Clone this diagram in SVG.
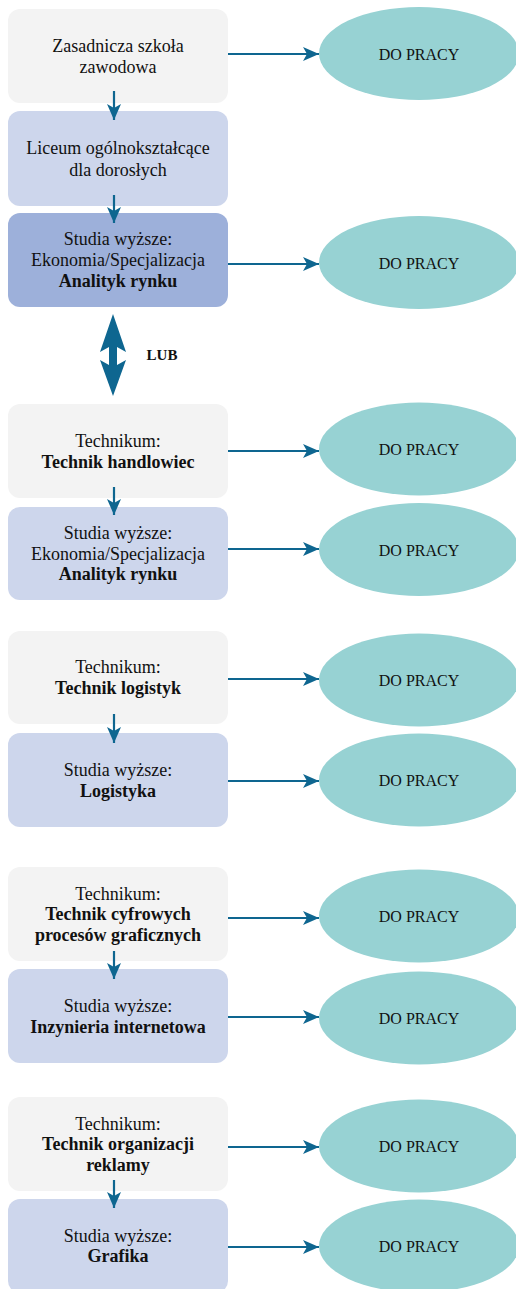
<svg xmlns="http://www.w3.org/2000/svg" width="516" height="1289" viewBox="0 0 516 1289">
<style>
.b1{fill:#F3F3F3}
.b2{fill:#CDD6EC}
.b3{fill:#9DB0DA}
.el{fill:#97D2D3}
.t{font-family:"Liberation Serif","Times New Roman",serif;font-size:18px;fill:#111;text-anchor:middle}
.bd{font-weight:bold}
.et{font-family:"Liberation Serif","Times New Roman",serif;font-size:16px;fill:#111;text-anchor:middle}
.c{stroke:#0E6690;stroke-width:2.2;fill:none}
</style>
<defs>
<marker id="ah" viewBox="0 0 16 14" refX="16" refY="7" markerWidth="16" markerHeight="14" markerUnits="userSpaceOnUse" orient="auto">
<path d="M0,0 L16,7 L0,14 L4,7 Z" fill="#0E6690"/>
</marker>
</defs>
<rect width="516" height="1289" fill="#fff"/>

<g id="n1"><rect class="b1" x="8" y="9" width="220" height="94" rx="12"/>
<text class="t" x="118" y="52">Zasadnicza szkoła</text><text class="t" x="118" y="72.5">zawodowa</text></g>
<g id="n2"><rect class="b2" x="8" y="111" width="220" height="95" rx="12"/>
<text class="t" x="118" y="154">Liceum ogólnokształcące</text><text class="t" x="118" y="175.5">dla dorosłych</text></g>
<g id="n3"><rect class="b3" x="8" y="213" width="220" height="94" rx="12"/>
<text class="t" x="118" y="245">Studia wyższe:</text><text class="t" x="118" y="266">Ekonomia/Specjalizacja</text><text class="t bd" x="118" y="286.5">Analityk rynku</text></g>

<g id="lub"><polygon points="113,314 126,352 117,347 117,365 126,360 113,396 100,360 109,365 109,347 100,352" fill="#0E6690"/>
<text x="162" y="360" font-family="Liberation Serif, serif" font-weight="bold" font-size="15" text-anchor="middle" fill="#111">LUB</text></g>

<g id="n4"><rect class="b1" x="8" y="404" width="220" height="94" rx="12"/>
<text class="t" x="118" y="447">Technikum:</text><text class="t bd" x="118" y="467.5">Technik handlowiec</text></g>
<g id="n5"><rect class="b2" x="8" y="507" width="220" height="93" rx="12"/>
<text class="t" x="118" y="539">Studia wyższe:</text><text class="t" x="118" y="559.5">Ekonomia/Specjalizacja</text><text class="t bd" x="118" y="580">Analityk rynku</text></g>

<g id="n6"><rect class="b1" x="8" y="631" width="220" height="93" rx="12"/>
<text class="t" x="118" y="673">Technikum:</text><text class="t bd" x="118" y="693.5">Technik logistyk</text></g>
<g id="n7"><rect class="b2" x="8" y="733" width="220" height="94" rx="12"/>
<text class="t" x="118" y="776">Studia wyższe:</text><text class="t bd" x="118" y="796.5">Logistyka</text></g>

<g id="n8"><rect class="b1" x="8" y="867" width="220" height="94" rx="12"/>
<text class="t" x="118" y="899.5">Technikum:</text><text class="t bd" x="118" y="920">Technik cyfrowych</text><text class="t bd" x="118" y="940.5">procesów graficznych</text></g>
<g id="n9"><rect class="b2" x="8" y="969" width="220" height="94" rx="12"/>
<text class="t" x="118" y="1012">Studia wyższe:</text><text class="t bd" x="118" y="1032.5">Inzynieria internetowa</text></g>

<g id="n10"><rect class="b1" x="8" y="1097" width="220" height="94" rx="12"/>
<text class="t" x="118" y="1129.5">Technikum:</text><text class="t bd" x="118" y="1150">Technik organizacji</text><text class="t bd" x="118" y="1170.5">reklamy</text></g>
<g id="n11"><rect class="b2" x="8" y="1199" width="220" height="94" rx="12"/>
<text class="t" x="118" y="1241.5">Studia wyższe:</text><text class="t bd" x="118" y="1262">Grafika</text></g>

<g id="e1"><ellipse class="el" cx="419" cy="53.5" rx="100" ry="46.5"/><text class="et" x="419" y="59.5">DO PRACY</text></g>
<g id="e2"><ellipse class="el" cx="419" cy="262.5" rx="100" ry="46.5"/><text class="et" x="419" y="268.5">DO PRACY</text></g>
<g id="e3"><ellipse class="el" cx="419" cy="449" rx="100" ry="46.5"/><text class="et" x="419" y="455">DO PRACY</text></g>
<g id="e4"><ellipse class="el" cx="419" cy="549.5" rx="100" ry="46.5"/><text class="et" x="419" y="555.5">DO PRACY</text></g>
<g id="e5"><ellipse class="el" cx="419" cy="680" rx="100" ry="46.5"/><text class="et" x="419" y="686">DO PRACY</text></g>
<g id="e6"><ellipse class="el" cx="419" cy="780" rx="100" ry="46.5"/><text class="et" x="419" y="786">DO PRACY</text></g>
<g id="e7"><ellipse class="el" cx="419" cy="916" rx="100" ry="46.5"/><text class="et" x="419" y="922">DO PRACY</text></g>
<g id="e8"><ellipse class="el" cx="419" cy="1018" rx="100" ry="46.5"/><text class="et" x="419" y="1024">DO PRACY</text></g>
<g id="e9"><ellipse class="el" cx="419" cy="1146" rx="100" ry="46.5"/><text class="et" x="419" y="1152">DO PRACY</text></g>
<g id="e10"><ellipse class="el" cx="419" cy="1246" rx="100" ry="46.5"/><text class="et" x="419" y="1252">DO PRACY</text></g>

<g id="connectors" class="c" marker-end="url(#ah)">
<line x1="228" y1="54" x2="319" y2="54"/>
<line x1="228" y1="264" x2="319" y2="264"/>
<line x1="228" y1="451" x2="319" y2="451"/>
<line x1="228" y1="549" x2="319" y2="549"/>
<line x1="228" y1="679" x2="319" y2="679"/>
<line x1="228" y1="781" x2="319" y2="781"/>
<line x1="228" y1="918" x2="319" y2="918"/>
<line x1="228" y1="1017" x2="319" y2="1017"/>
<line x1="228" y1="1147" x2="319" y2="1147"/>
<line x1="228" y1="1247" x2="319" y2="1247"/>
<line x1="114" y1="91" x2="114" y2="120"/>
<line x1="114" y1="195" x2="114" y2="223"/>
<line x1="114" y1="487" x2="114" y2="515"/>
<line x1="114" y1="714" x2="114" y2="743"/>
<line x1="114" y1="951" x2="114" y2="979"/>
<line x1="114" y1="1180" x2="114" y2="1208"/>
</g>
</svg>
